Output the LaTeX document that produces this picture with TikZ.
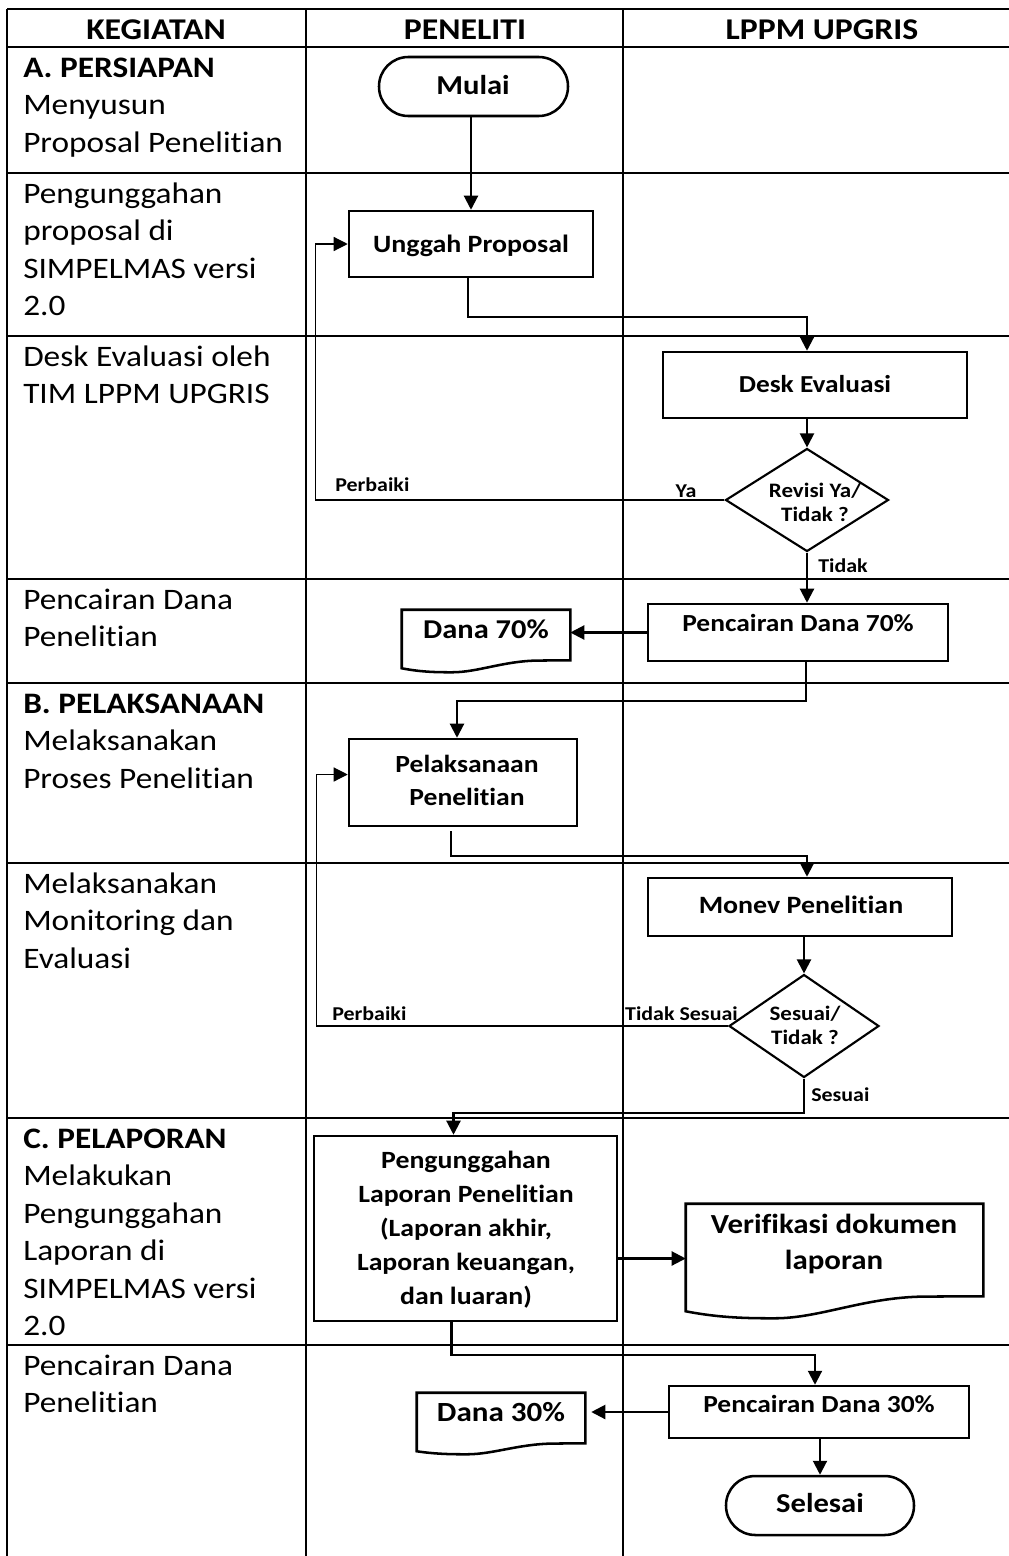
\documentclass[tikz,border=0pt]{standalone}
\usepackage{fontspec}
\setmainfont{Carlito}[FakeStretch=1.12,Ligatures={NoCommon}]
\usetikzlibrary{arrows.meta,calc,fit,shapes.geometric}
\def\px{0.75pt}
\tikzset{
  grid/.style={line width=1.7pt},
  box/.style={draw,line width=1.9pt,inner sep=0pt},
  term/.style={draw,line width=1.9pt,inner sep=0pt,rounded corners=22pt},
  ghost/.style={inner sep=0pt},
  dec/.style={draw,diamond,line width=1.6pt,inner sep=0pt},
  arr/.style={line width=1.6pt,-{Triangle[length=10.5pt,width=10.5pt]}},
  thinarr/.style={line width=0.9pt,-{Triangle[length=10.5pt,width=10.5pt]}},
  hd/.style={font=\fontsize{22.6}{27}\selectfont\bfseries,anchor=base,inner sep=0pt},
  lt/.style={font=\fontsize{22.3}{28}\selectfont,anchor=base west,inner sep=0pt},
  ltb/.style={font=\fontsize{22.3}{28}\selectfont\bfseries,anchor=base west,inner sep=0pt},
  bt/.style={font=\fontsize{18.6}{25}\selectfont\bfseries,anchor=base,inner sep=0pt},
  lab/.style={font=\fontsize{14.7}{18}\selectfont\bfseries,inner sep=0pt},
  dlab/.style={font=\fontsize{15.4}{18}\selectfont\bfseries,inner sep=0pt,anchor=base},
}
\newcommand\docpath[3]{%
  \draw[line width=1.9pt,line join=miter]
    (#1.south east) -- (#1.north east) -- (#1.north west) -- ($(#1.south west)+(0,#2)$)
    .. controls ($(#1.south west)!0.12!(#1.south east)+(0,#3)$) and ($(#1.south west)!0.22!(#1.south east)+(0,#3)$) ..
    ($(#1.south west)!0.3!(#1.south east)+(0,#3)$)
    .. controls ($(#1.south west)!0.45!(#1.south east)+(0,#3)$) and ($(#1.south west)!0.6!(#1.south east)+(0,1)$) ..
    ($(#1.south west)!0.8!(#1.south east)+(0,0.3)$) -- cycle;}
\begin{document}
\begin{tikzpicture}[x=0.75pt,y=-0.75pt]
\useasboundingbox (0,0) rectangle (1009,1556);
% table grid
\foreach \yy in {9,47,173,336,579,683,863,1118,1345}
  \draw[grid] (7,\yy) -- (1009,\yy);
\foreach \xx in {7,306,623}
  \draw[grid] (\xx,9) -- (\xx,1556);
% headers
\node[hd] (h1) at (156,39) {KEGIATAN};
\node[hd] (h2) at (465,39) {PENELITI};
\node[hd] (h3) at (822,39) {LPPM UPGRIS};
% left column
\node[ltb] (k1) at (23,77) {A. PERSIAPAN};
\node[lt] (k2) at (23,114.5) {Menyusun};
\node[lt] (k3) at (23,152) {Proposal Penelitian};
\node[lt] (k4) at (23,203) {Pengunggahan};
\node[lt] (k5) at (23,240.5) {proposal di};
\node[lt] (k6) at (23,278) {SIMPELMAS versi};
\node[lt] (k7) at (23,315.5) {2.0};
\node[lt] (k8) at (23,366) {Desk Evaluasi oleh};
\node[lt] (k9) at (23,403.5) {TIM LPPM UPGRIS};
\node[lt] (k10) at (23,609) {Pencairan Dana};
\node[lt] (k11) at (23,646.5) {Penelitian};
\node[ltb] (k12) at (23,713) {B. PELAKSANAAN};
\node[lt] (k13) at (23,750.5) {Melaksanakan};
\node[lt] (k14) at (23,788) {Proses Penelitian};
\node[lt] (k15) at (23,893) {Melaksanakan};
\node[lt] (k16) at (23,930.5) {Monitoring dan};
\node[lt] (k17) at (23,968) {Evaluasi};
\node[ltb] (k18) at (23,1148) {C. PELAPORAN};
\node[lt] (k19) at (23,1185.5) {Melakukan};
\node[lt] (k20) at (23,1223) {Pengunggahan};
\node[lt] (k21) at (23,1260.5) {Laporan di};
\node[lt] (k22) at (23,1298) {SIMPELMAS versi};
\node[lt] (k23) at (23,1335.5) {2.0};
\node[lt] (k24) at (23,1375) {Pencairan Dana};
\node[lt] (k25) at (23,1412.5) {Penelitian};
% flow shapes
\node[term,fit={(379,57) (568,116)}] (mulai) {};
\node[box,fit={(349,211) (593,277)}] (unggah) {};
\node[box,fit={(663,352) (967,418)}] (desk) {};
\node[dec,minimum width=163*\px,minimum height=103*\px] (d1) at (807,500) {};
\node[box,fit={(648,604) (948,661)}] (p70) {};
\node[ghost,fit={(402,610) (570,660)}] (dana70) {};
\docpath{dana70}{8}{12}
\node[box,fit={(349,739) (577,826)}] (pel) {};
\node[box,fit={(648,878) (952,936)}] (monev) {};
\node[dec,minimum width=150*\px,minimum height=103*\px] (d2) at (804,1026) {};
\node[box,fit={(314,1136) (617,1321)}] (plp) {};
\node[ghost,fit={(686,1204) (983,1296)}] (verif) {};
\docpath{verif}{15}{22}
\node[box,fit={(669,1386) (969,1438)}] (p30) {};
\node[ghost,fit={(417,1393) (585,1443)}] (dana30) {};
\docpath{dana30}{8}{11}
\node[term,fit={(726,1476) (914,1535)}] (selesai) {};
% texts in shapes
\node[bt,font=\fontsize{20.5}{25}\selectfont\bfseries] (tmulai) at (473,94) {Mulai};
\node[bt,font=\fontsize{18.7}{25}\selectfont\bfseries] (tunggah) at (471,252) {Unggah Proposal};
\node[bt,font=\fontsize{18.3}{25}\selectfont\bfseries] (tdesk) at (815,392) {Desk Evaluasi};
\node[dlab] (td1a) at (815,497) {Revisi Ya/};
\node[dlab] (td1b) at (815,521) {Tidak ?};
\node[bt,font=\fontsize{18.4}{25}\selectfont\bfseries] (tp70) at (798,631) {Pencairan Dana 70\%};
\node[bt,font=\fontsize{20.4}{25}\selectfont\bfseries] (tdana70) at (486,638) {Dana 70\%};
\node[bt,font=\fontsize{18.5}{25}\selectfont\bfseries] (tpel1) at (467,772) {Pelaksanaan};
\node[bt,font=\fontsize{18.5}{25}\selectfont\bfseries] (tpel2) at (467,805) {Penelitian};
\node[bt,font=\fontsize{18.7}{25}\selectfont\bfseries] (tmonev) at (801,913) {Monev Penelitian};
\node[dlab] (td2a) at (805,1020) {Sesuai/};
\node[dlab] (td2b) at (805,1044) {Tidak ?};
\node[bt] (tplp1) at (466,1168) {Pengunggahan};
\node[bt] (tplp2) at (466,1202) {Laporan Penelitian};
\node[bt] (tplp3) at (466,1236) {(Laporan akhir,};
\node[bt] (tplp4) at (466,1270) {Laporan keuangan,};
\node[bt] (tplp5) at (466,1304) {dan luaran)};
\node[bt,font=\fontsize{20.7}{25}\selectfont\bfseries] (tver1) at (834,1233) {Verifikasi dokumen};
\node[bt,font=\fontsize{20.7}{25}\selectfont\bfseries] (tver2) at (834,1269) {laporan};
\node[bt,font=\fontsize{18.4}{25}\selectfont\bfseries] (tp30) at (819,1412) {Pencairan Dana 30\%};
\node[bt,font=\fontsize{20.8}{25}\selectfont\bfseries] (tdana30) at (501,1421) {Dana 30\%};
\node[bt,font=\fontsize{20.5}{25}\selectfont\bfseries] (tselesai) at (820,1512) {Selesai};
% connectors
\draw[arr] (mulai.south -| unggah.north) -- (unggah.north);
\draw[arr] ($(unggah.south)+(-3,0)$) |- ($(desk.north)+(-8,-34)$) -- ($(desk.north)+(-8,0)$);
\draw[arr] (d1.north |- desk.south) -- (d1.north);
\draw[thinarr] (d1.west) -| ($(unggah.west)+(-32,0)$) -- (unggah.west);
\node[lab,anchor=base west] (lp1) at (335,491) {Perbaiki};
\node[lab,anchor=base] (lya) at (686,497) {Ya};
\draw[arr] (d1.south) -- (d1.south |- p70.north);
\node[lab,anchor=base west] (ltidak) at (818,572) {Tidak};
\draw[arr] (p70.west) -- (p70.west -| dana70.east);
\draw[arr] ($(p70.south)+(8,0)$) -- ++(0,39) -| ($(pel.north)+(-6,0)$);
\draw[arr] ($(pel.south)+(-12,4)$) -- ++(0,25) -| ($(monev.north)+(7,0)$);
\draw[arr] (d2.north |- monev.south) -- (d2.north);
\draw[thinarr] (d2.west) -| ($(pel.west)+(-31,-8)$) -- ($(pel.west)+(0,-8)$);
\node[lab,anchor=base west] (lp2) at (332,1020) {Perbaiki};
\node[lab,anchor=base east] (lts) at (738,1020) {Tidak Sesuai};
\draw[arr] (d2.south) -- ++(0,34) -| ($(plp.north)+(-12,0)$);
\node[lab,anchor=base west] (lsesuai) at (811,1101) {Sesuai};
\draw[arr] ($(plp.east)+(0,30)$) coordinate (q1) -- (q1 -| verif.west);
\draw[arr] ($(plp.south)+(-14,0)$) -- ++(0,33) -| ($(p30.north)+(-4,0)$);
\draw[arr] (p30.west) -- ($(p30.west -| dana30.east)+(6,0)$);
\draw[arr] (selesai.north |- p30.south) -- (selesai.north);
\end{tikzpicture}
\end{document}
